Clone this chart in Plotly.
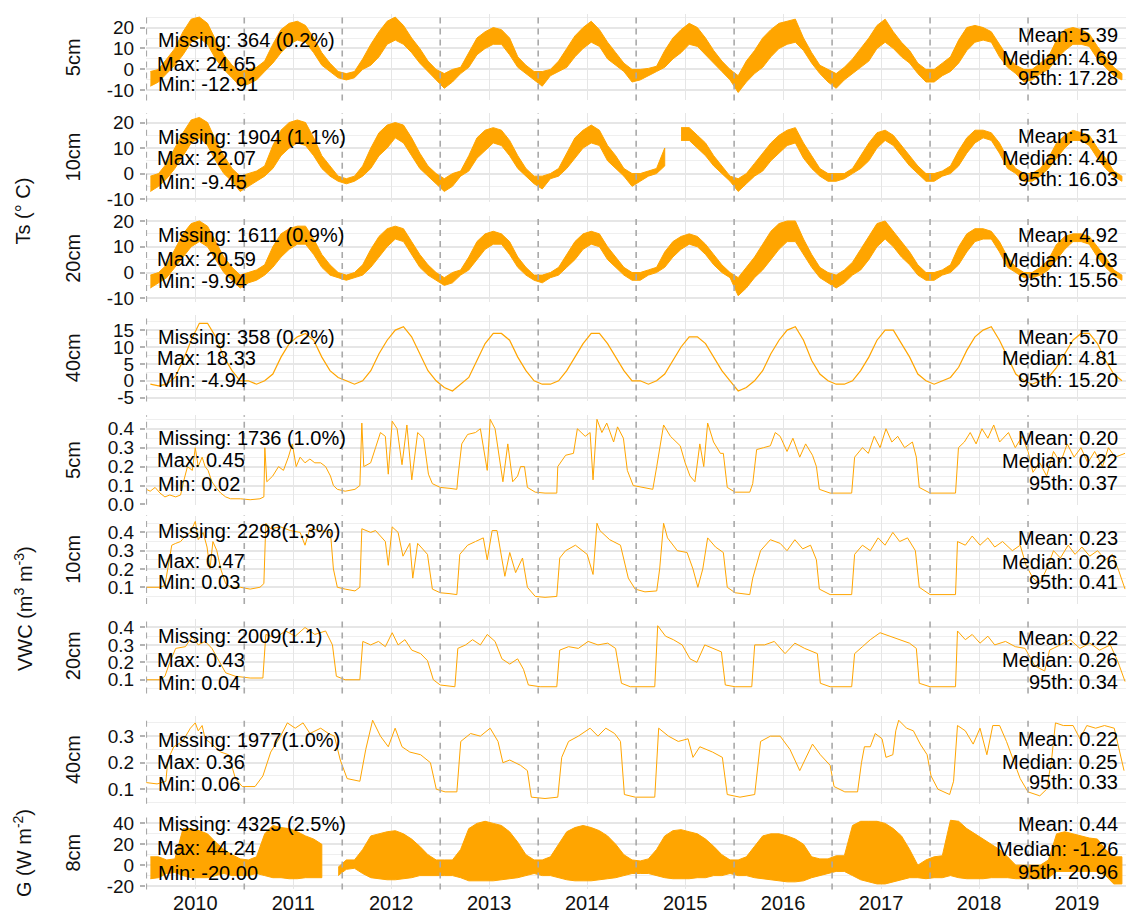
import plotly.graph_objects as go

ORANGE = "#FFA500"
W, H = 1126, 923

# ---------------- time base ----------------
YEARS = list(range(2010, 2020))
year_labels = [str(y) for y in YEARS]
month_t = [y + (m + 0.5) / 12 for y in YEARS for m in range(12)]  # month centres (decimal years)

# ---------------- soil temperature (monthly low / high envelope, deg C) ----------------
ts5_lo = [-8, -6, -2, 2, 7, 13, 15, 12, 5, 0, -4, -8,
          -7, -5, -1, 3, 8, 12, 14, 13, 8, 2, -1, -4,
          -5, -4, 0, 2, 6, 12, 14, 12, 8, 3, -1, -5,
          -9, -6, -2, 1, 7, 10, 12, 12, 7, 1, -2, -5,
          -8, -3, -1, 1, 6, 10, 13, 11, 5, 2, -1, -6,
          -5, -3, -1, 1, 5, 8, 12, 11, 7, 3, -1, -5,
          -11, -6, -2, 1, 6, 10, 12, 13, 9, 3, -2, -6,
          -9, -5, -2, 1, 4, 10, 13, 10, 6, 3, -2, -6,
          -6, -3, -1, 3, 9, 13, 14, 13, 6, 1, -2, -6,
          -5, -2, 0, 5, 9, 12, 12, 11, 5, 1, -3, -5]
ts5_hi = [-1, 0, 5, 10, 18, 24, 25, 22, 14, 7, 2, -1,
          0, 1, 4, 12, 19, 22, 23, 21, 15, 8, 3, -1,
          -2, -1, 5, 12, 18, 23, 25, 21, 15, 10, 4, 0,
          -2, 0, 1, 8, 15, 18, 20, 19, 15, 6, 2, -1,
          -1, 0, 4, 10, 16, 20, 23, 19, 13, 8, 3, 0,
          0, 0.5, 1.5, 9, 15, 19, 22, 20, 15, 9, 4, 0,
          -3, 4, 9, 15, 19, 22, 23, 24, 15, 8, 2, 0,
          -2, 1, 5, 10, 15, 21, 24, 18, 13, 9, 3, 0,
          0, 3, 6, 14, 20, 21, 20, 18, 12, 6, 2, 0,
          0, 3, 6, 14, 19, 20, 19, 17, 11, 6, 1, -2]

ts10_lo = [-7, -5, -2, 2, 7, 12, 14, 11, 5, 0, -3, -7,
           -5, -3, -1, 2, 7, 10, 12, 11, 7, 2, -1, -3,
           -4, -3, -1, 2, 7, 10, 14, 12, 7, 2, -1, -4,
           -7, -5, -1, 1, 6, 9, 12, 11, 7, 2, -1, -4,
           -6, -2, -1, 2, 6, 10, 12, 11, 5, 2, -1, -5,
           -3, -1, 0, 3, None, 13, 13, 10, 7, 3, 0, -3,
           -7, -4, -1, 1, 5, 8, 11, 12, 6, 2, -1, -3,
           -3, -2, 0, 2, 5, 10, 13, 11, 7, 3, 0, -3,
           -3, -1, 0, 3, 8, 12, 14, 13, 8, 2, 0, -3,
           -3, -1, 2, 6, 10, 13, 13, 11, 6, 2, -1, -3]
ts10_hi = [-1, 0, 4, 10, 16, 21, 22, 20, 13, 7, 2, -1,
           0, 1, 3, 11, 17, 20, 21, 20, 14, 7, 3, -1,
           -2, -1, 3, 10, 16, 19, 20, 19, 14, 8, 3, 0,
           -2, 0, 1, 7, 14, 17, 18, 17, 13, 7, 2, -1,
           -1, 0, 2, 8, 14, 17, 19, 17, 11, 7, 2, 0,
           0, 1, 2, 10, None, 18, 18, 15, 12, 7, 3, -1,
           -2, 0, 4, 8, 12, 15, 17, 18, 12, 7, 2, 0,
           0, 0, 2, 7, 12, 16, 17, 15, 11, 7, 3, 0,
           0, 1, 3, 9, 14, 17, 17, 16, 12, 6, 2, 0,
           0, 2, 6, 12, 15, 17, 16, 15, 10, 6, 1, -1]

ts20_lo = [-6, -4, -2, 2, 6, 10, 12, 10, 5, 0, -3, -6,
           -4, -3, -1, 2, 6, 9, 11, 11, 7, 2, -1, -2,
           -3, -2, -1, 2, 6, 10, 13, 12, 7, 2, -1, -3,
           -5, -4, -1, 1, 5, 9, 11, 11, 7, 2, -1, -3,
           -4, -2, -1, 2, 5, 9, 11, 10, 5, 2, -1, -3,
           -3, -1, 0, 2, 6, 9, 11, 10, 7, 3, 0, -2,
           -9, -6, -2, 1, 5, 9, 12, 12, 7, 2, -2, -4,
           -6, -4, -1, 1, 5, 10, 13, 10, 6, 3, -1, -3,
           -3, -1, 0, 3, 8, 12, 13, 13, 8, 2, 0, -2,
           -2, -1, 1, 5, 9, 12, 12, 11, 6, 2, -1, -3]
ts20_hi = [-1, 0, 3, 9, 15, 19, 20, 18, 12, 6, 2, -1,
           0, 1, 3, 10, 15, 17, 18, 18, 13, 7, 3, 0,
           -1, 0, 3, 9, 14, 17, 18, 17, 12, 7, 3, 0,
           -2, 0, 1, 6, 12, 15, 16, 15, 12, 6, 2, -1,
           -1, 0, 2, 7, 12, 15, 16, 15, 10, 6, 2, 0,
           0, 1, 2, 8, 12, 14, 15, 14, 11, 7, 3, 0,
           -2, 2, 6, 11, 16, 19, 20, 20, 13, 7, 2, 0,
           -1, 1, 4, 9, 14, 19, 20, 16, 12, 8, 3, 0,
           0, 1, 3, 10, 15, 17, 17, 16, 12, 6, 2, 0,
           0, 2, 5, 11, 14, 15, 15, 14, 10, 6, 1, -1]

ts40 = [-1, -1.5, -1, 1, 6, 12, 17, 17, 13, 7, 3, 0,
        0, -1, 0, 2, 7, 11, 13, 14, 12, 7, 3, 1,
        0, -1, 0, 3, 8, 12, 15, 16, 13, 8, 3, 0,
        -2, -3, -1, 1, 6, 11, 14, 14, 12, 7, 3, 0,
        -1, -1, 0, 3, 7, 11, 14, 14, 11, 7, 3, 0,
        0, -1, 0, 2, 6, 10, 13, 13, 11, 7, 3, 0,
        -3, -2, 0, 3, 8, 12, 15, 16, 12, 6, 2, 0,
        -1, -1, 0, 3, 7, 12, 15, 15, 11, 7, 2, 0,
        -1, 0, 1, 4, 9, 13, 15, 16, 12, 7, 2, 0,
        -1, 0, 1, 4, 8, 12, 14, 14, 11, 6, 2, 0]

# ---------------- soil heat flux G 8cm (monthly low / high envelope, W m-2) ----------------
g_lo = [-13, -12, -8, -7, -10, -12, -12, -12, -10, -8, -10, -10,
        -10, -8, -10, -12, -12, -13, -13, -12, -12, -12, None, -10,
        -4, -3, -8, -12, -13, -14, -14, -13, -12, -10, -10, -10,
        -10, -10, -12, -15, -15, -15, -15, -14, -13, -12, -10, -8,
        -10, -10, -12, -14, -15, -15, -15, -14, -13, -12, -10, -8,
        -8, -8, -10, -12, -13, -13, -13, -12, -12, -10, -10, -8,
        -10, -10, -12, -13, -14, -15, -16, -16, -15, -12, -10, -8,
        -6, -6, -10, -14, -16, -18, -18, -16, -14, -12, -12, -13,
        -12, -12, -10, -12, -13, -13, -13, -12, -12, -12, -13, -13,
        -13, -13, -12, -6, -6, -6, -6, -6, -6, -10, -18, -18]
g_hi = [8, 8, 5, 6, 35, 35, 33, 30, 22, 15, 10, 6,
        5, 8, 30, 38, 36, 35, 32, 28, 25, 20, None, -2,
        5, 5, 15, 28, 30, 32, 33, 30, 25, 18, 10, 5,
        5, 5, 15, 35, 40, 42, 40, 38, 32, 22, 10, 5,
        5, 8, 20, 32, 36, 38, 36, 33, 28, 20, 10, 5,
        4, 6, 15, 28, 33, 34, 32, 30, 25, 18, 10, 5,
        5, 8, 18, 28, 30, 30, 28, 25, 20, 8, 6, 6,
        9, 9, 38, 42, 42, 42, 40, 35, 28, 15, 0, 5,
        8, 9, 43, 42, 35, 30, 25, 20, 15, 8, 0, 0,
        0, 0, 5, 30, 32, 30, 28, 26, 25, 15, 8, 8]

# ---------------- volumetric water content (decimal year, m3 m-3) ----------------
vwc5_t = [2010.00, 2010.04, 2010.09, 2010.14, 2010.19, 2010.24, 2010.30, 2010.35, 2010.38, 2010.42,
          2010.47, 2010.50, 2010.53, 2010.57, 2010.60, 2010.63, 2010.67, 2010.71, 2010.76, 2010.81,
          2010.86, 2010.96, 2011.06, 2011.16, 2011.20, 2011.21, 2011.23, 2011.29, 2011.35, 2011.40,
          2011.45, 2011.49, 2011.53, 2011.57, 2011.62, 2011.67, 2011.72, 2011.78, 2011.83, 2011.88,
          2011.91, 2011.95, 2012.03, 2012.13, 2012.18, 2012.20, 2012.22, 2012.29, 2012.34, 2012.39,
          2012.44, 2012.47, 2012.51, 2012.56, 2012.61, 2012.66, 2012.71, 2012.77, 2012.83, 2012.88,
          2012.92, 2013.00, 2013.10, 2013.17, 2013.18, 2013.22, 2013.28, 2013.36, 2013.41, 2013.48,
          2013.51, 2013.56, 2013.64, 2013.69, 2013.74, 2013.79, 2013.82, 2013.86, 2013.89, 2013.97,
          2014.07, 2014.19, 2014.20, 2014.28, 2014.36, 2014.40, 2014.48, 2014.53, 2014.56, 2014.60,
          2014.65, 2014.70, 2014.77, 2014.81, 2014.87, 2014.91, 2014.97, 2015.07, 2015.17, 2015.21,
          2015.28, 2015.35, 2015.45, 2015.50, 2015.55, 2015.60, 2015.65, 2015.69, 2015.73, 2015.79,
          2015.86, 2015.89, 2015.93, 2016.01, 2016.16, 2016.19, 2016.23, 2016.30, 2016.37, 2016.42,
          2016.47, 2016.54, 2016.60, 2016.67, 2016.73, 2016.80, 2016.84, 2016.87, 2016.98, 2017.20,
          2017.23, 2017.31, 2017.37, 2017.43, 2017.49, 2017.55, 2017.61, 2017.67, 2017.74, 2017.82,
          2017.86, 2017.89, 2018.00, 2018.26, 2018.29, 2018.35, 2018.41, 2018.47, 2018.53, 2018.59,
          2018.65, 2018.71, 2018.80, 2018.87, 2018.94, 2019.00, 2019.05, 2019.12, 2019.19, 2019.26,
          2019.33, 2019.40, 2019.47, 2019.54, 2019.61, 2019.68, 2019.76, 2019.82, 2019.89, 2019.99]
vwc5_v = [0.08, 0.07, 0.09, 0.06, 0.04, 0.05, 0.04, 0.05, 0.12, 0.20,
          0.18, 0.30, 0.20, 0.25, 0.20, 0.18, 0.12, 0.09, 0.06, 0.04,
          0.03, 0.03, 0.025, 0.03, 0.04, 0.30, 0.12, 0.15, 0.20, 0.18,
          0.25, 0.32, 0.20, 0.25, 0.22, 0.24, 0.22, 0.22, 0.20, 0.15,
          0.10, 0.08, 0.07, 0.08, 0.10, 0.43, 0.20, 0.22, 0.30, 0.38,
          0.36, 0.16, 0.44, 0.40, 0.21, 0.42, 0.13, 0.38, 0.35, 0.16,
          0.11, 0.09, 0.085, 0.08, 0.14, 0.32, 0.37, 0.38, 0.40, 0.18,
          0.45, 0.40, 0.12, 0.32, 0.12, 0.15, 0.20, 0.20, 0.09, 0.065,
          0.06, 0.06, 0.20, 0.26, 0.27, 0.40, 0.36, 0.38, 0.13, 0.45,
          0.38, 0.43, 0.33, 0.41, 0.35, 0.18, 0.10, 0.09, 0.08, 0.20,
          0.42, 0.36, 0.31, 0.22, 0.15, 0.12, 0.32, 0.20, 0.43, 0.33,
          0.27, 0.27, 0.09, 0.065, 0.065, 0.11, 0.29, 0.30, 0.31, 0.38,
          0.36, 0.28, 0.35, 0.25, 0.32, 0.26, 0.20, 0.08, 0.06, 0.06,
          0.25, 0.30, 0.27, 0.36, 0.30, 0.40, 0.33, 0.36, 0.30, 0.33,
          0.25, 0.09, 0.06, 0.06, 0.30, 0.33, 0.38, 0.32, 0.40, 0.35,
          0.42, 0.33, 0.38, 0.30, 0.36, 0.28, 0.17, 0.22, 0.15, 0.28,
          0.22, 0.32, 0.25, 0.30, 0.22, 0.28, 0.20, 0.30, 0.25, 0.27]

vwc10_t = [2010.00, 2010.14, 2010.19, 2010.22, 2010.26, 2010.30, 2010.35, 2010.40, 2010.45, 2010.50,
           2010.53, 2010.58, 2010.62, 2010.65, 2010.68, 2010.72, 2010.76, 2010.81, 2010.86, 2010.96,
           2011.06, 2011.16, 2011.20, 2011.22, 2011.27, 2011.37, 2011.47, 2011.57, 2011.62, 2011.67,
           2011.78, 2011.88, 2011.91, 2011.95, 2012.03, 2012.13, 2012.18, 2012.20, 2012.29, 2012.34,
           2012.39, 2012.44, 2012.47, 2012.51, 2012.57, 2012.62, 2012.69, 2012.72, 2012.77, 2012.87,
           2012.92, 2013.00, 2013.10, 2013.17, 2013.20, 2013.28, 2013.36, 2013.44, 2013.48, 2013.53,
           2013.58, 2013.66, 2013.71, 2013.77, 2013.84, 2013.89, 2013.97, 2014.07, 2014.19, 2014.22,
           2014.28, 2014.38, 2014.50, 2014.56, 2014.60, 2014.63, 2014.73, 2014.84, 2014.92, 2014.99,
           2015.09, 2015.21, 2015.24, 2015.28, 2015.32, 2015.42, 2015.52, 2015.58, 2015.63, 2015.68,
           2015.73, 2015.81, 2015.89, 2015.93, 2016.01, 2016.16, 2016.19, 2016.27, 2016.37, 2016.47,
           2016.54, 2016.62, 2016.70, 2016.78, 2016.84, 2016.87, 2016.98, 2017.20, 2017.23, 2017.31,
           2017.39, 2017.47, 2017.54, 2017.62, 2017.69, 2017.77, 2017.85, 2017.89, 2018.00, 2018.26,
           2018.28, 2018.36, 2018.43, 2018.51, 2018.59, 2018.66, 2018.74, 2018.84, 2018.92, 2018.98,
           2019.05, 2019.12, 2019.19, 2019.26, 2019.33, 2019.41, 2019.48, 2019.55, 2019.63, 2019.71,
           2019.79, 2019.86, 2019.92, 2019.99]
vwc10_v = [0.10, 0.10, 0.11, 0.20, 0.33, 0.34, 0.35, 0.38, 0.40, 0.46,
           0.36, 0.40, 0.32, 0.20, 0.35, 0.30, 0.20, 0.12, 0.10, 0.10,
           0.09, 0.10, 0.12, 0.45, 0.42, 0.43, 0.41, 0.40, 0.33, 0.42,
           0.41, 0.40, 0.20, 0.10, 0.09, 0.08, 0.10, 0.42, 0.40, 0.41,
           0.38, 0.35, 0.22, 0.43, 0.40, 0.27, 0.34, 0.15, 0.34, 0.28,
           0.09, 0.07, 0.065, 0.06, 0.28, 0.33, 0.35, 0.37, 0.25, 0.41,
           0.41, 0.16, 0.29, 0.18, 0.26, 0.10, 0.05, 0.045, 0.05, 0.26,
           0.30, 0.33, 0.28, 0.17, 0.45, 0.41, 0.36, 0.33, 0.15, 0.09,
           0.075, 0.08, 0.20, 0.45, 0.37, 0.30, 0.29, 0.20, 0.10, 0.20,
           0.37, 0.32, 0.29, 0.10, 0.07, 0.06, 0.15, 0.30, 0.36, 0.34,
           0.30, 0.36, 0.31, 0.33, 0.25, 0.09, 0.06, 0.06, 0.28, 0.33,
           0.30, 0.37, 0.33, 0.40, 0.35, 0.37, 0.30, 0.10, 0.06, 0.06,
           0.35, 0.33, 0.38, 0.33, 0.37, 0.32, 0.35, 0.30, 0.33, 0.22,
           0.15, 0.12, 0.20, 0.30, 0.26, 0.33, 0.28, 0.32, 0.27, 0.30,
           0.25, 0.28, 0.20, 0.09]

vwc20_t = [2010.00, 2010.14, 2010.19, 2010.24, 2010.30, 2010.40, 2010.47, 2010.53, 2010.60, 2010.67,
           2010.73, 2010.81, 2010.91, 2011.06, 2011.19, 2011.22, 2011.32, 2011.42, 2011.52, 2011.62,
           2011.72, 2011.83, 2011.90, 2011.94, 2012.03, 2012.18, 2012.21, 2012.29, 2012.37, 2012.44,
           2012.51, 2012.57, 2012.64, 2012.71, 2012.80, 2012.87, 2012.93, 2013.00, 2013.15, 2013.18,
           2013.26, 2013.33, 2013.41, 2013.48, 2013.56, 2013.63, 2013.71, 2013.79, 2013.85, 2013.90,
           2014.02, 2014.19, 2014.22, 2014.31, 2014.41, 2014.51, 2014.61, 2014.71, 2014.79, 2014.85,
           2014.94, 2015.19, 2015.22, 2015.30, 2015.38, 2015.47, 2015.55, 2015.62, 2015.70, 2015.78,
           2015.87, 2015.91, 2016.01, 2016.18, 2016.21, 2016.31, 2016.41, 2016.52, 2016.62, 2016.72,
           2016.85, 2016.88, 2016.98, 2017.20, 2017.23, 2017.31, 2017.39, 2017.49, 2017.59, 2017.69,
           2017.79, 2017.86, 2017.89, 2018.00, 2018.26, 2018.28, 2018.36, 2018.43, 2018.51, 2018.59,
           2018.66, 2018.77, 2018.87, 2018.97, 2019.07, 2019.17, 2019.22, 2019.33, 2019.43, 2019.53,
           2019.63, 2019.73, 2019.84, 2019.92, 2019.99]
vwc20_v = [0.10, 0.10, 0.12, 0.20, 0.28, 0.29, 0.35, 0.30, 0.32, 0.28,
           0.22, 0.14, 0.12, 0.11, 0.11, 0.36, 0.34, 0.38, 0.35, 0.40,
           0.36, 0.38, 0.30, 0.12, 0.10, 0.10, 0.32, 0.30, 0.32, 0.29,
           0.37, 0.30, 0.33, 0.27, 0.25, 0.21, 0.10, 0.07, 0.06, 0.28,
           0.30, 0.33, 0.30, 0.36, 0.32, 0.22, 0.19, 0.22, 0.16, 0.07,
           0.06, 0.06, 0.27, 0.29, 0.28, 0.32, 0.30, 0.31, 0.28, 0.08,
           0.06, 0.06, 0.41, 0.35, 0.33, 0.30, 0.22, 0.20, 0.30, 0.28,
           0.26, 0.07, 0.06, 0.06, 0.30, 0.30, 0.32, 0.25, 0.31, 0.28,
           0.25, 0.08, 0.06, 0.06, 0.25, 0.29, 0.33, 0.37, 0.35, 0.33,
           0.31, 0.28, 0.08, 0.06, 0.06, 0.38, 0.33, 0.36, 0.31, 0.35,
           0.30, 0.32, 0.29, 0.28, 0.18, 0.15, 0.27, 0.30, 0.33, 0.28,
           0.31, 0.27, 0.30, 0.20, 0.09]

vwc40_t = [2010.00, 2010.11, 2010.20, 2010.22, 2010.28, 2010.37, 2010.45, 2010.50, 2010.53, 2010.57,
           2010.60, 2010.67, 2010.76, 2010.84, 2010.91, 2010.98, 2011.11, 2011.19, 2011.27, 2011.37,
           2011.44, 2011.52, 2011.60, 2011.67, 2011.78, 2011.86, 2011.92, 2011.98, 2012.05, 2012.18,
           2012.24, 2012.31, 2012.39, 2012.47, 2012.54, 2012.61, 2012.69, 2012.80, 2012.90, 2012.96,
           2013.05, 2013.17, 2013.21, 2013.31, 2013.41, 2013.51, 2013.59, 2013.64, 2013.71, 2013.82,
           2013.89, 2013.93, 2014.07, 2014.20, 2014.24, 2014.31, 2014.41, 2014.53, 2014.61, 2014.69,
           2014.78, 2014.84, 2014.88, 2014.99, 2015.19, 2015.23, 2015.33, 2015.43, 2015.53, 2015.58,
           2015.65, 2015.78, 2015.88, 2015.93, 2016.06, 2016.21, 2016.27, 2016.37, 2016.47, 2016.57,
           2016.67, 2016.80, 2016.88, 2016.98, 2017.02, 2017.13, 2017.26, 2017.30, 2017.33, 2017.39,
           2017.44, 2017.51, 2017.55, 2017.62, 2017.65, 2017.68, 2017.76, 2017.83, 2017.90, 2017.97,
           2018.01, 2018.08, 2018.20, 2018.24, 2018.28, 2018.36, 2018.44, 2018.51, 2018.58, 2018.64,
           2018.71, 2018.78, 2018.85, 2018.92, 2019.00, 2019.12, 2019.19, 2019.24, 2019.28, 2019.36,
           2019.46, 2019.53, 2019.60, 2019.69, 2019.78, 2019.88, 2019.98]
vwc40_v = [0.125, 0.12, 0.13, 0.21, 0.26, 0.28, 0.33, 0.35, 0.32, 0.34,
           0.29, 0.27, 0.24, 0.23, 0.14, 0.11, 0.11, 0.15, 0.24, 0.30,
           0.35, 0.33, 0.35, 0.31, 0.33, 0.31, 0.30, 0.21, 0.14, 0.13,
           0.25, 0.36, 0.30, 0.26, 0.33, 0.26, 0.24, 0.23, 0.20, 0.10,
           0.09, 0.09, 0.28, 0.31, 0.30, 0.33, 0.28, 0.20, 0.21, 0.19,
           0.17, 0.07, 0.065, 0.07, 0.22, 0.28, 0.30, 0.33, 0.30, 0.33,
           0.31, 0.28, 0.08, 0.07, 0.07, 0.33, 0.30, 0.28, 0.29, 0.22,
           0.26, 0.24, 0.22, 0.08, 0.07, 0.08, 0.28, 0.30, 0.30, 0.25,
           0.17, 0.27, 0.23, 0.19, 0.11, 0.09, 0.09, 0.20, 0.26, 0.26,
           0.31, 0.29, 0.22, 0.23, 0.32, 0.36, 0.33, 0.32, 0.27, 0.23,
           0.15, 0.10, 0.08, 0.13, 0.34, 0.32, 0.27, 0.33, 0.23, 0.34,
           0.34, 0.28, 0.21, 0.14, 0.09, 0.075, 0.10, 0.21, 0.35, 0.34,
           0.34, 0.29, 0.34, 0.33, 0.34, 0.33, 0.17]

# ---------------- panel texts ----------------
row_labels = ["5cm", "10cm", "20cm", "40cm", "5cm", "10cm", "20cm", "40cm", "8cm"]
missing_txt = ["Missing: 364 (0.2%)", "Missing: 1904 (1.1%)", "Missing: 1611 (0.9%)",
               "Missing: 358 (0.2%)", "Missing: 1736 (1.0%)", "Missing: 2298(1.3%)",
               "Missing: 2009(1.1)", "Missing: 1977(1.0%)", "Missing: 4325 (2.5%)"]
max_txt = ["Max: 24.65", "Max: 22.07", "Max: 20.59", "Max: 18.33", "Max: 0.45",
           "Max: 0.47", "Max: 0.43", "Max: 0.36", "Max: 44.24"]
min_txt = ["Min: -12.91", "Min: -9.45", "Min: -9.94", "Min: -4.94", "Min: 0.02",
           "Min: 0.03", "Min: 0.04", "Min: 0.06", "Min: -20.00"]
mean_txt = ["Mean: 5.39", "Mean: 5.31", "Mean: 4.92", "Mean: 5.70", "Mean: 0.20",
            "Mean: 0.23", "Mean: 0.22", "Mean: 0.22", "Mean: 0.44"]
median_txt = ["Median: 4.69", "Median: 4.40", "Median: 4.03", "Median: 4.81", "Median: 0.22",
              "Median: 0.26", "Median: 0.26", "Median: 0.25", "Median: -1.26"]
p95_txt = ["95th: 17.28", "95th: 16.03", "95th: 15.56", "95th: 15.20", "95th: 0.37",
           "95th: 0.41", "95th: 0.34", "95th: 0.33", "95th: 20.96"]

# ---------------- layout geometry (pixels) ----------------
panel_px = [(9, 97), (110, 200), (214, 302), (315, 403), (417, 508),
            (519, 609), (624, 700), (723, 812), (824, 899)]
y_ranges = [(-14.79, 26.53), (-11.03, 23.65), (-11.47, 22.12), (-6.10, 19.49),
            (-0.0015, 0.4715), (0.008, 0.492), (0.0205, 0.4495), (0.045, 0.375),
            (-23.21, 47.45)]
y_ticks = [[-10, 0, 10, 20], [-10, 0, 10, 20], [-10, 0, 10, 20], [-5, 0, 5, 10, 15],
           [0.0, 0.1, 0.2, 0.3, 0.4], [0.1, 0.2, 0.3, 0.4], [0.1, 0.2, 0.3, 0.4],
           [0.1, 0.2, 0.3], [-20, 0, 20, 40]]
y_ticktext = [["-10", "0", "10", "20"], ["-10", "0", "10", "20"], ["-10", "0", "10", "20"],
              ["-5", "0", "5", "10", "15"], ["0.0", "0.1", "0.2", "0.3", "0.4"],
              ["0.1", "0.2", "0.3", "0.4"], ["0.1", "0.2", "0.3", "0.4"],
              ["0.1", "0.2", "0.3"], ["-20", "0", "20", "40"]]
y_minor = [5, 5, 5, 2.5, 0.05, 0.05, 0.05, 0.05, 10]
left_ann_y = [(36, 60, 80), (134, 156, 180), (234, 258, 281), (337, 359, 381), (440, 463, 487),
              (535, 565, 587), (641, 666, 689), (747, 770, 792), (833, 857, 882)]
right_ann_y = [(31, 54, 74), (133, 156, 177), (234, 259, 280), (337, 359, 381), (440, 464, 486),
               (542, 566, 587), (643, 666, 688), (746, 769, 790), (833, 858, 881)]

X0_PX, X1_PX = 146, 1126
FONT = "Liberation Sans, Arial, sans-serif"
GRID = "#e6e6e6"
GRID_MINOR = "#efefef"

fig = go.Figure()


def ax_names(i):
    return ("x" if i == 1 else f"x{i}"), ("y" if i == 1 else f"y{i}")


def add_band(lo, hi, xa, ya):
    segs, cur = [], []
    for t, a, b in zip(month_t, lo, hi):
        if a is None or b is None:
            if cur:
                segs.append(cur)
                cur = []
        else:
            cur.append((t, a, b))
    if cur:
        segs.append(cur)
    for s in segs:
        xs = [p[0] for p in s]
        ys = [p[2] for p in s] + [p[1] for p in s][::-1]
        fig.add_trace(go.Scatter(x=xs + xs[::-1], y=ys, mode="lines", fill="toself",
                                 fillcolor=ORANGE, line=dict(color=ORANGE, width=1),
                                 xaxis=xa, yaxis=ya, hoverinfo="skip", showlegend=False))


def add_line(t, v, xa, ya, width=1.0):
    fig.add_trace(go.Scatter(x=t, y=v, mode="lines", line=dict(color=ORANGE, width=width),
                             xaxis=xa, yaxis=ya, hoverinfo="skip", showlegend=False))


add_band(ts5_lo, ts5_hi, *ax_names(1))
add_band(ts10_lo, ts10_hi, *ax_names(2))
add_band(ts20_lo, ts20_hi, *ax_names(3))
add_line(month_t, ts40, *ax_names(4), width=1.2)
add_line(vwc5_t, vwc5_v, *ax_names(5))
add_line(vwc10_t, vwc10_v, *ax_names(6))
add_line(vwc20_t, vwc20_v, *ax_names(7))
add_line(vwc40_t, vwc40_v, *ax_names(8))
add_band(g_lo, g_hi, *ax_names(9))

layout = dict(width=W, height=H, autosize=False, margin=dict(l=0, r=0, t=0, b=0),
              paper_bgcolor="white", plot_bgcolor="white", showlegend=False,
              font=dict(family=FONT, size=20, color="#111111"))
shapes = []
annotations = []

year_ticks = [y + 0.5 for y in YEARS]
for i in range(1, 10):
    top, bot = panel_px[i - 1]
    xn, yn = ax_names(i)
    xkey = "xaxis" if i == 1 else f"xaxis{i}"
    ykey = "yaxis" if i == 1 else f"yaxis{i}"
    layout[xkey] = dict(domain=[X0_PX / W, X1_PX / W], range=[2009.997, 2020.0], anchor=yn,
                        tickmode="array", tickvals=year_ticks, ticktext=year_labels,
                        showticklabels=(i == 9), ticks="", showgrid=True, gridcolor=GRID,
                        gridwidth=1.2, zeroline=False, showline=False,
                        tickfont=dict(family=FONT, size=20, color="#111111"))
    mn = y_minor[i - 1]
    lo_r, hi_r = y_ranges[i - 1]
    k0 = int(lo_r // mn) - 1
    minor_vals = [round((k0 + j) * mn, 4) for j in range(int((hi_r - lo_r) / mn) + 4)]
    layout[ykey] = dict(domain=[1 - bot / H, 1 - top / H], range=list(y_ranges[i - 1]), anchor=xn,
                        tickmode="array", tickvals=y_ticks[i - 1], ticktext=y_ticktext[i - 1],
                        ticks="outside", ticklen=5, tickwidth=1.5, tickcolor="#b3b3b3",
                        showgrid=True, gridcolor=GRID, gridwidth=1.5, zeroline=False,
                        showline=False, ticklabelstandoff=2,
                        tickfont=dict(family=FONT, size=19, color="#111111"),
                        minor=dict(tickmode="array", tickvals=minor_vals, showgrid=True,
                                   gridcolor=GRID_MINOR, gridwidth=1, ticks=""))
    for y in YEARS:
        shapes.append(dict(type="line", xref=xn, yref=f"{yn} domain", x0=y, x1=y, y0=0, y1=1,
                           line=dict(color="#a9a9a9", width=1.6, dash="6px,5px"), layer="above"))
    # row label
    annotations.append(dict(text=row_labels[i - 1], x=73 / W, y=1 - (top + bot) / 2 / H,
                            xref="paper", yref="paper", showarrow=False, textangle=-90,
                            xanchor="center", yanchor="middle",
                            font=dict(family=FONT, size=20, color="#111111")))
    # left stats
    lys = left_ann_y[i - 1]
    for txt, yy, xx in zip([missing_txt[i - 1], max_txt[i - 1], min_txt[i - 1]], lys, (156, 155, 156)):
        annotations.append(dict(text=txt, x=xx / W, y=1 - yy / H, xref="paper", yref="paper",
                                showarrow=False, xanchor="left", yanchor="middle",
                                font=dict(family=FONT, size=20, color="#000000")))
    rys = right_ann_y[i - 1]
    for txt, yy in zip([mean_txt[i - 1], median_txt[i - 1], p95_txt[i - 1]], rys):
        annotations.append(dict(text=txt, x=1120 / W, y=1 - yy / H, xref="paper", yref="paper",
                                showarrow=False, xanchor="right", yanchor="middle",
                                font=dict(family=FONT, size=20, color="#000000")))

group_labels = [("Ts (° C)", 210), ("VWC (m<sup>3</sup> m<sup>-3</sup>)", 614),
                ("G (W m<sup>-2</sup>)", 862)]
for txt, yy in group_labels:
    annotations.append(dict(text=txt, x=23 / W, y=1 - yy / H, xref="paper", yref="paper",
                            showarrow=False, textangle=-90, xanchor="center", yanchor="middle",
                            font=dict(family=FONT, size=20, color="#111111")))

layout["shapes"] = shapes
layout["annotations"] = annotations
fig.update_layout(**layout)
fig.write_html("out.html")
